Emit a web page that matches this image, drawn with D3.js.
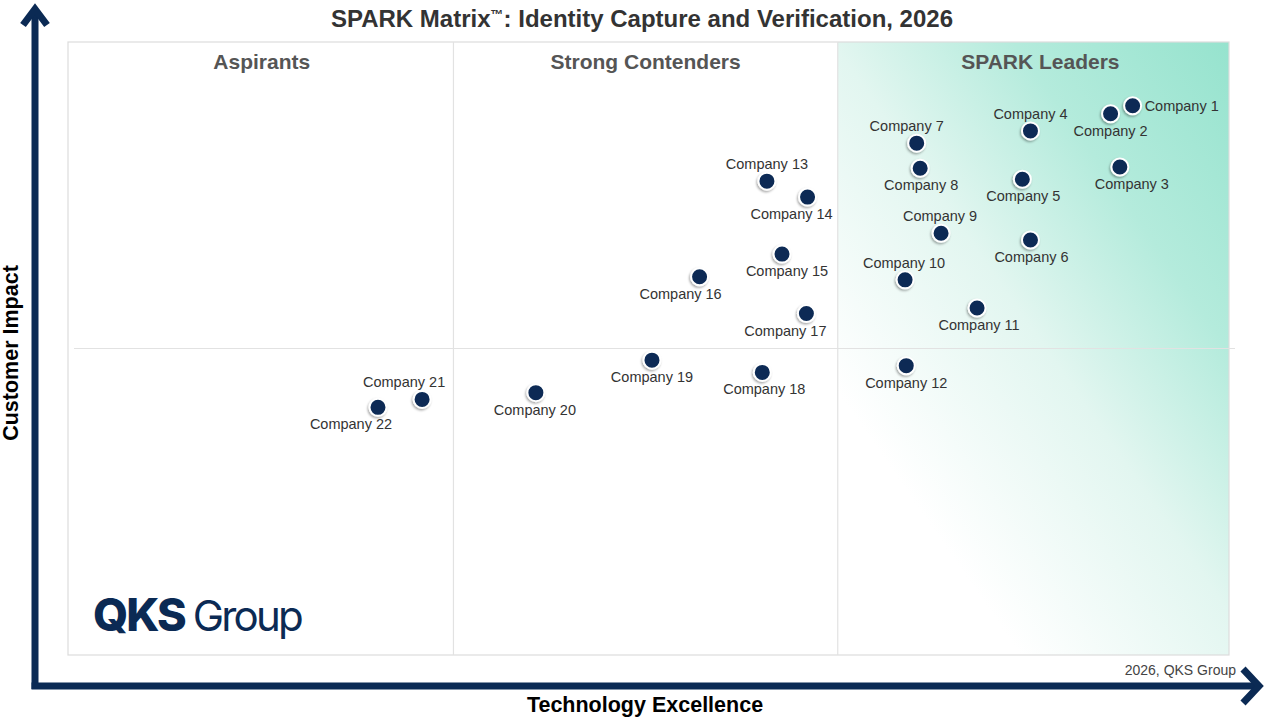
<!DOCTYPE html>
<html>
<head>
<meta charset="utf-8">
<script src="https://cdn.jsdelivr.net/npm/d3@7"></script>
<style>
  body { margin: 0; background: #fff; }
  svg { display: block; font-family: 'Liberation Sans', Arial, sans-serif; }
</style>
</head>
<body>
<svg id="chart"></svg>
<script>
// data (technology excellence, customer impact on a 0-100 scale)
const companies = ['Company 1', 'Company 2', 'Company 3', 'Company 4', 'Company 5', 'Company 6',
  'Company 7', 'Company 8', 'Company 9', 'Company 10', 'Company 11', 'Company 12',
  'Company 13', 'Company 14', 'Company 15', 'Company 16', 'Company 17', 'Company 18',
  'Company 19', 'Company 20', 'Company 21', 'Company 22']
const techExcellence = [91.7, 89.8, 90.6, 82.9, 82.2, 82.9, 73.1, 73.4, 75.2, 72.1, 78.3, 72.2,
  60.2, 63.7, 61.5, 54.4, 63.6, 59.8, 50.3, 40.3, 30.5, 26.7]
const customerImpact = [89.6, 88.3, 79.6, 85.5, 77.6, 67.7, 83.5, 79.4, 68.8, 61.2, 56.6, 47.2,
  77.3, 74.7, 65.4, 61.7, 55.7, 46.1, 48.1, 42.8, 41.7, 40.4]
const quadrants = ['Aspirants', 'Strong Contenders', 'SPARK Leaders']
const xDividers = [33.2, 66.3]
const yDivider = 50

// label placement next to each dot: side and a small horizontal nudge (px)
const labelSide = ['right', 'below', 'below', 'above', 'below', 'below', 'above', 'below', 'above',
  'above', 'below', 'below', 'above', 'below', 'below', 'below', 'below', 'below', 'below',
  'below', 'above', 'below']
const labelNudge = [0, 0, 12, 0, 1, 1, -10, 1, -1, -1, 2, 0, 0, -16, 5, -19, -21, 2, 0, -1, -18, -27]
const quadTitleShift = [1, 0, 7]

const width = 1280
const height = 720
const plotLeft = 68
const plotRight = 1229
const plotTop = 42
const plotBottom = 655
const navy = '#0b2a54'

const svg = d3.select('#chart')
              .attr('width', width)
              .attr('height', height)

const xScale = d3.scaleLinear()
                 .domain([0, 100])
                 .range([plotLeft, plotRight])
const yScale = d3.scaleLinear()
                 .domain([0, 100])
                 .range([plotBottom, plotTop])

const defs = svg.append('defs')
const grad = defs.append('linearGradient')
                 .attr('id', 'leaders')
                 .attr('gradientUnits', 'userSpaceOnUse')
                 .attr('x1', plotRight).attr('y1', plotTop)
                 .attr('x2', plotRight - 535).attr('y2', plotTop + 372)
grad.append('stop').attr('offset', 0).attr('stop-color', '#96e3ce')
grad.append('stop').attr('offset', 0.27).attr('stop-color', '#b4ebdc')
grad.append('stop').attr('offset', 0.5).attr('stop-color', '#e2f6f0')
grad.append('stop').attr('offset', 0.8).attr('stop-color', '#ffffff')

const shadow = defs.append('filter')
                   .attr('id', 'shadow')
                   .attr('x', '-50%').attr('y', '-50%')
                   .attr('width', '200%').attr('height', '200%')
shadow.append('feDropShadow')
      .attr('dx', -1).attr('dy', 1.5)
      .attr('stdDeviation', 1.2)
      .attr('flood-color', '#000')
      .attr('flood-opacity', 0.35)

// leaders background
svg.append('rect')
   .attr('x', xScale(xDividers[1]))
   .attr('y', yScale(100))
   .attr('width', xScale(100) - xScale(xDividers[1]))
   .attr('height', yScale(0) - yScale(100))
   .attr('fill', 'url(#leaders)')

// plot frame and dividers
svg.append('rect')
   .attr('x', xScale(0)).attr('y', yScale(100))
   .attr('width', xScale(100) - xScale(0))
   .attr('height', yScale(0) - yScale(100))
   .attr('fill', 'none')
   .attr('stroke', '#dcdcdc')
   .attr('stroke-width', 1.2)

svg.selectAll('line.vdiv')
   .data(xDividers)
   .join('line')
   .classed('vdiv', true)
   .attr('x1', d => xScale(d)).attr('x2', d => xScale(d))
   .attr('y1', yScale(100)).attr('y2', yScale(0))
   .attr('stroke', '#e2e2e2')
   .attr('stroke-width', 1.2)

svg.append('line')
   .attr('x1', xScale(0) + 6).attr('x2', xScale(100) + 6)
   .attr('y1', yScale(yDivider)).attr('y2', yScale(yDivider))
   .attr('stroke', '#e2e2e2')
   .attr('stroke-width', 1.2)

// quadrant titles
const quadEdges = [0, ...xDividers, 100]
svg.selectAll('text.quad')
   .data(quadrants)
   .join('text')
   .classed('quad', true)
   .text(d => d)
   .attr('x', (d, i) => (xScale(quadEdges[i]) + xScale(quadEdges[i + 1])) / 2 + quadTitleShift[i])
   .attr('y', 69)
   .attr('text-anchor', 'middle')
   .attr('fill', '#555')
   .style('font-weight', 'bold')
   .style('font-size', '21px')

// title
const title = svg.append('text')
                 .attr('x', 642)
                 .attr('y', 27)
                 .attr('text-anchor', 'middle')
                 .attr('fill', '#333')
                 .style('font-weight', 'bold')
                 .style('font-size', '24px')
title.append('tspan').text('SPARK Matrix')
title.append('tspan').text('™').attr('dy', -8).style('font-size', '13px')
title.append('tspan').text(': Identity Capture and Verification, 2026').attr('dy', 8)

// logo
const logo = svg.append('text')
                .attr('x', 93)
                .attr('y', 631)
                .attr('fill', navy)
logo.append('tspan')
    .text('QKS')
    .style('font-family', 'Inter, sans-serif')
    .style('font-weight', 800)
    .style('font-size', '45px')
    .style('letter-spacing', '-2px')
logo.append('tspan')
    .text('Group')
    .attr('dx', 8)
    .style('font-family', 'Inter, sans-serif')
    .style('font-weight', 400)
    .style('font-size', '42px')
    .style('letter-spacing', '-2.8px')

// copyright
svg.append('text')
   .text('2026, QKS Group')
   .attr('x', 1236)
   .attr('y', 675)
   .attr('text-anchor', 'end')
   .attr('fill', '#444')
   .style('font-size', '14px')

// axes arrows
svg.append('line')
   .attr('x1', 35).attr('y1', 689)
   .attr('x2', 35).attr('y2', 10)
   .attr('stroke', navy).attr('stroke-width', 7)
svg.append('path')
   .attr('d', 'M23,25 L35,9 L47,25')
   .attr('fill', 'none')
   .attr('stroke', navy).attr('stroke-width', 7)
svg.append('line')
   .attr('x1', 31.5).attr('y1', 686)
   .attr('x2', 1256).attr('y2', 686)
   .attr('stroke', navy).attr('stroke-width', 7)
svg.append('path')
   .attr('d', 'M1243,669 L1259,686 L1243,703')
   .attr('fill', 'none')
   .attr('stroke', navy).attr('stroke-width', 7)

// axis titles
svg.append('text')
   .text('Technology Excellence')
   .attr('x', 645)
   .attr('y', 712)
   .attr('text-anchor', 'middle')
   .attr('fill', '#000')
   .style('font-weight', 'bold')
   .style('font-size', '21.5px')
svg.append('text')
   .text('Customer Impact')
   .attr('transform', 'translate(18, 353)rotate(-90)')
   .attr('text-anchor', 'middle')
   .attr('fill', '#000')
   .style('font-weight', 'bold')
   .style('font-size', '21.5px')

// points
const points = companies.map((name, i) => ({
  name,
  x: techExcellence[i],
  y: customerImpact[i],
  side: labelSide[i],
  nudge: labelNudge[i]
}))

svg.append('g')
   .selectAll('circle.dot')
   .data(points)
   .join('circle')
   .classed('dot', true)
   .attr('cx', d => xScale(d.x))
   .attr('cy', d => yScale(d.y))
   .attr('r', 8.5)
   .attr('fill', navy)
   .attr('stroke', '#fff')
   .attr('stroke-width', 2)
   .attr('filter', 'url(#shadow)')

svg.append('g')
   .selectAll('text.label')
   .data(points)
   .join('text')
   .classed('label', true)
   .text(d => d.name)
   .attr('x', d => d.side === 'right' ? xScale(d.x) + 12 : xScale(d.x) + d.nudge)
   .attr('y', d => {
     const cy = yScale(d.y)
     if (d.side === 'above') return cy - 17 + 5
     if (d.side === 'below') return cy + 17 + 5
     return cy + 5
   })
   .attr('text-anchor', d => d.side === 'right' ? 'start' : 'middle')
   .attr('fill', '#333')
   .style('font-size', '14.5px')
</script>
</body>
</html>
